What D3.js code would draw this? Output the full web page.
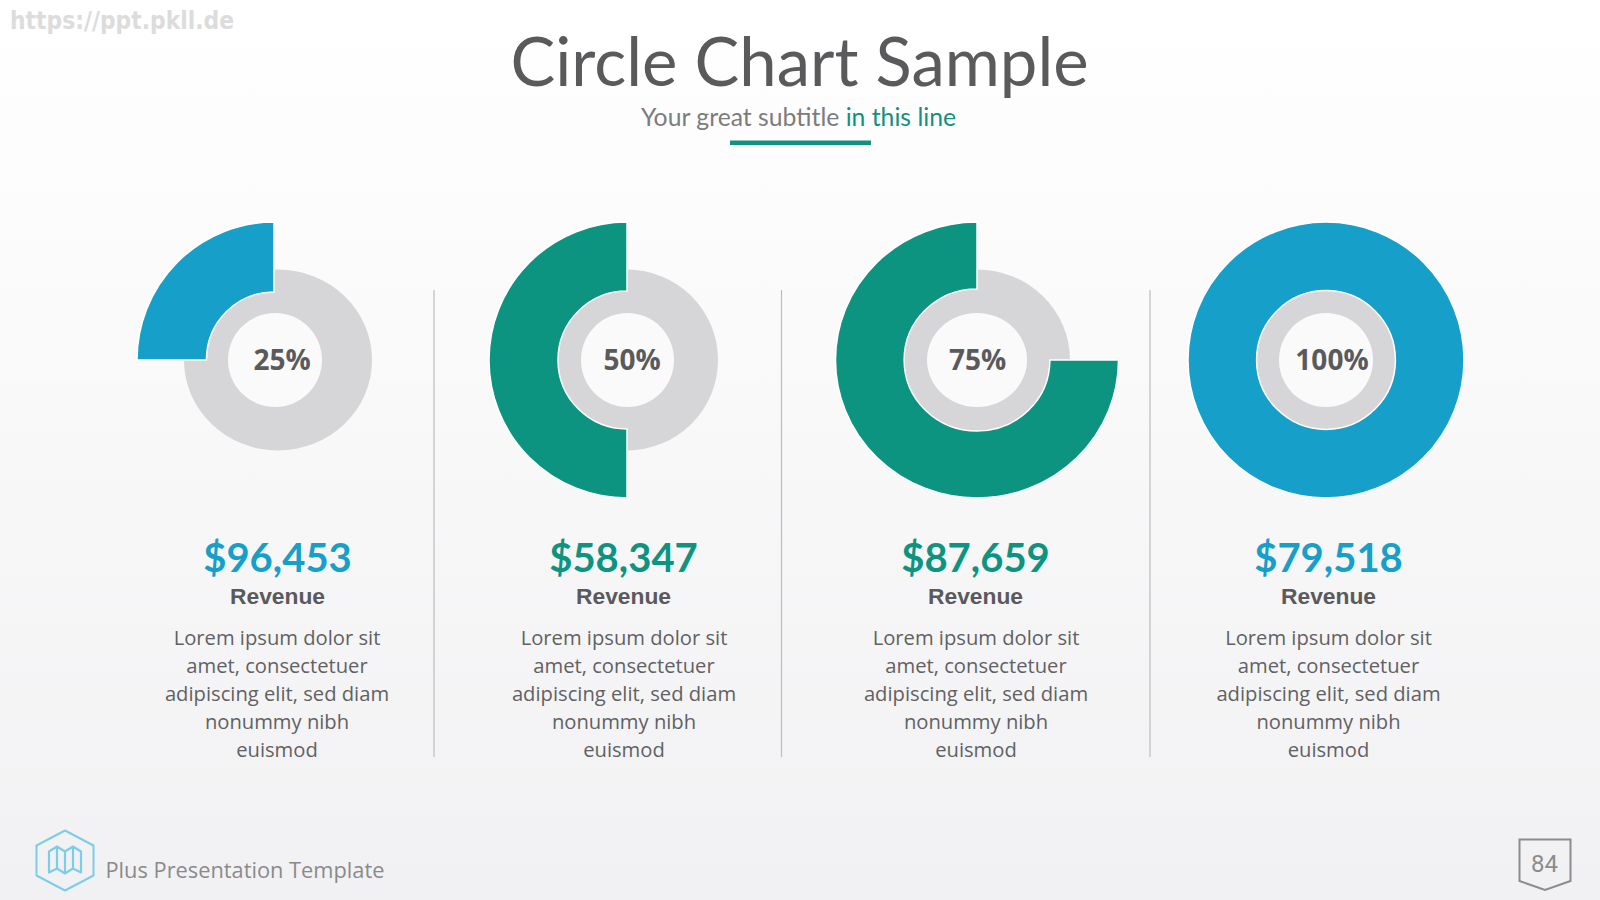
<!DOCTYPE html>
<html>
<head>
<meta charset="utf-8">
<title>Circle Chart Sample</title>
<script src="https://cdn.jsdelivr.net/npm/d3@7/dist/d3.min.js"></script>
<style>
  html, body { margin: 0; padding: 0; background: #fff; }
  svg { display: block; }
</style>
</head>
<body>
<svg id="slide" width="1600" height="900"></svg>
<script>
// Chart values
const percents = [25, 50, 75, 100];
const amounts = ["$96,453", "$58,347", "$87,659", "$79,518"];
const captions = ["Revenue", "Revenue", "Revenue", "Revenue"];
const bodyLines = ["Lorem ipsum dolor sit", "amet, consectetuer", "adipiscing elit, sed diam", "nonummy nibh", "euismod"];
const accentKeys = ["blue", "green", "green", "blue"];

// Palette
const palette = { blue: "#169fc9", green: "#0d9480", ring: "#d6d6d8", hole: "#fafafb", ink: "#5a5a5c", soft: "#7c7c7e", rule: "#bdbdc0", teal: "#12917f", line: "#8c8c8e", icon: "#7ccde9" };

// Per-column layout
const wedgeX = [274, 627, 977, 1326];
const wedgeRx = [137, 138, 141.5, 138];
const wedgeInnerRatio = [0.493, 0.5, 0.515, 0.503];
const ringX = [278, 627, 977, 1326];
const ringRx = [94, 91, 93, 91];
const holeX = [275, 627.5, 977, 1326];
const holeRx = [47, 46.5, 50, 47];
const percentX = [282, 632, 977.5, 1332];
const amountX = [277.5, 623.5, 975.5, 1328.5];
const bodyX = [277, 624, 976, 1328.5];
const dividerX = [434, 781.5, 1150];

const svg = d3.select("#slide");

// Slide background
const defs = svg.append("defs");
const bg = defs.append("linearGradient").attr("id", "bg").attr("x1", 0).attr("y1", 0).attr("x2", 0).attr("y2", 1);
bg.append("stop").attr("offset", "0%").attr("stop-color", "#ffffff");
bg.append("stop").attr("offset", "100%").attr("stop-color", "#f1f1f3");
svg.append("rect").attr("width", 1600).attr("height", 900).attr("fill", "url(#bg)");

// Site mark in the corner
svg.append("text").attr("x", 10).attr("y", 29)
  .attr("font-family", "DejaVu Sans").attr("font-weight", 700).attr("font-size", 24)
  .attr("textLength", 224).attr("lengthAdjust", "spacingAndGlyphs")
  .attr("fill", "#dcdcdc").text("https://ppt.pkll.de");

// Heading
svg.append("text").attr("x", 799.5).attr("y", 86).attr("text-anchor", "middle")
  .attr("font-family", "Lato").attr("font-size", 67).attr("fill", palette.ink).text("Circle Chart Sample");
const sub = svg.append("text").attr("x", 798.5).attr("y", 125.5).attr("text-anchor", "middle")
  .attr("font-family", "Lato").attr("font-size", 24.75).attr("fill", palette.soft);
sub.append("tspan").text("Your great subtitle ");
sub.append("tspan").attr("fill", palette.teal).text("in this line");
svg.append("rect").attr("x", 730).attr("y", 140.5).attr("width", 141).attr("height", 4.5).attr("fill", palette.teal);

// Column dividers
svg.selectAll("line.divider").data(dividerX).join("line").attr("class", "divider")
  .attr("x1", d => d).attr("x2", d => d).attr("y1", 290).attr("y2", 757)
  .attr("stroke", palette.rule).attr("stroke-width", 1.2);

// Percentage to sweep, running counter-clockwise from twelve o'clock
const sweep = d3.scaleLinear().domain([0, 100]).range([0, -2 * Math.PI]);
const centerY = 360;
const ringRy = 90.5, wedgeRy = 138, holeRy = 47;
const ellipseArc = d3.arc();

const charts = svg.selectAll("g.chart").data(percents).join("g").attr("class", "chart");

// Grey track
charts.append("path")
  .attr("transform", (d, i) => `translate(${ringX[i]},${centerY}) scale(${ringRx[i] / ringRy},1)`)
  .attr("d", () => ellipseArc({ innerRadius: 0, outerRadius: ringRy, startAngle: 0, endAngle: 2 * Math.PI }))
  .attr("fill", palette.ring);

// Centre of the track
charts.append("path")
  .attr("transform", (d, i) => `translate(${holeX[i]},${centerY}) scale(${holeRx[i] / holeRy},1)`)
  .attr("d", () => ellipseArc({ innerRadius: 0, outerRadius: holeRy, startAngle: 0, endAngle: 2 * Math.PI }))
  .attr("fill", palette.hole);

// Value wedge
charts.append("path")
  .attr("transform", (d, i) => `translate(${wedgeX[i]},${centerY}) scale(${wedgeRx[i] / wedgeRy},1)`)
  .attr("d", (d, i) => ellipseArc({ innerRadius: wedgeRy * wedgeInnerRatio[i], outerRadius: wedgeRy, startAngle: 0, endAngle: sweep(d) }))
  .attr("fill", (d, i) => palette[accentKeys[i]])
  .attr("stroke", "#ffffff").attr("stroke-width", 1.5).attr("vector-effect", "non-scaling-stroke");

// Percent label
charts.append("text")
  .attr("x", (d, i) => percentX[i]).attr("y", 370).attr("text-anchor", "middle")
  .attr("font-family", "Open Sans").attr("font-weight", 700).attr("font-size", 28)
  .attr("fill", palette.ink).text(d => d + "%");

// Amount, caption and body copy
charts.append("text")
  .attr("x", (d, i) => amountX[i]).attr("y", 571.5).attr("text-anchor", "middle")
  .attr("font-family", "Lato").attr("font-weight", 700).attr("font-size", 40)
  .attr("fill", (d, i) => palette[accentKeys[i]]).text((d, i) => amounts[i]);
charts.append("text")
  .attr("x", (d, i) => amountX[i]).attr("y", 603.5).attr("text-anchor", "middle")
  .attr("font-family", "Liberation Sans").attr("font-weight", 700).attr("font-size", 22.8)
  .attr("fill", palette.ink).text((d, i) => captions[i]);
charts.each(function (d, i) {
  d3.select(this).selectAll("text.body").data(bodyLines).join("text").attr("class", "body")
    .attr("x", bodyX[i]).attr("y", (line, k) => 645 + k * 28).attr("text-anchor", "middle")
    .attr("font-family", "Open Sans").attr("font-size", 20.2)
    .attr("fill", "#616163").text(line => line);
});

// Footer emblem: hexagon with a folded map
const emblem = svg.append("g").attr("transform", "translate(65,860.5)")
  .attr("fill", "none").attr("stroke", palette.icon).attr("stroke-linejoin", "round");
emblem.append("path").attr("stroke-width", 2)
  .attr("d", "M0,-30 L28.5,-15 L28.5,15 L0,30 L-28.5,15 L-28.5,-15 Z");
emblem.append("path").attr("stroke-width", 2.2)
  .attr("d", "M-16,-9 L-8,-14 L0,-9 L8,-14 L16,-9 L16,12 L8,8 L0,13 L-8,8 L-16,12 Z M-8,-14 L-8,8 M0,-9 L0,13 M8,-14 L8,8");

svg.append("text").attr("x", 105.5).attr("y", 878)
  .attr("font-family", "Open Sans").attr("font-size", 21.8).attr("fill", "#8a8a8c")
  .text("Plus Presentation Template");

// Page badge
svg.append("path").attr("d", "M1519.5,839.5 H1570.5 V881 L1545,890 L1519.5,881 Z")
  .attr("fill", "none").attr("stroke", palette.line).attr("stroke-width", 2);
svg.append("text").attr("x", 1544.5).attr("y", 872).attr("text-anchor", "middle")
  .attr("font-family", "Roboto").attr("font-size", 24).attr("fill", palette.line).text("84");
</script>
</body>
</html>
